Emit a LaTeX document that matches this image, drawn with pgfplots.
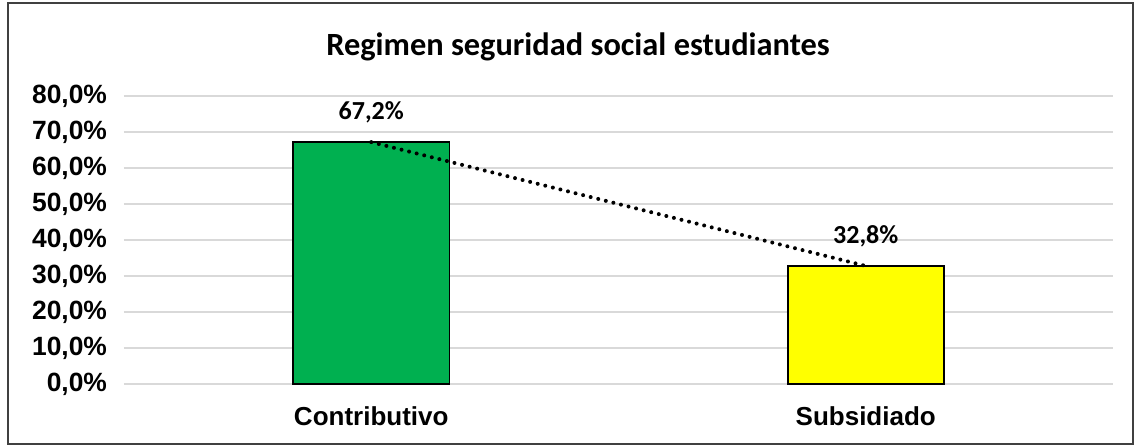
\documentclass[border=0pt]{standalone}
\usepackage{fontspec}
\setmainfont{Liberation Sans}
\newfontfamily\calibri{Carlito}
\usepackage{pgfplots}
\pgfplotsset{compat=1.18}
\definecolor{gridgray}{HTML}{D9D9D9}
\definecolor{bargreen}{HTML}{00B050}
\definecolor{baryellow}{HTML}{FFFF00}
\begin{document}
\begin{tikzpicture}
% frame and page size (1px = 0.5pt)
\path[use as bounding box] (-62pt,-31.5pt) rectangle (508.5pt,192pt);
\draw[black!75, line width=1pt] (-58pt,-30pt) rectangle (504.5pt,190.5pt);
\node[font=\calibri\bfseries\fontsize{16.2}{18}\selectfont] at (227pt,168.5pt) {Regimen seguridad social estudiantes};
\begin{axis}[
  at={(0,0)}, anchor=south west,
  scale only axis,
  width=494.5pt, height=144pt,
  xmin=-0.5, xmax=1.5,
  ymin=0, ymax=80,
  axis line style={draw=none},
  xtick={0,1},
  xticklabels={Contributivo,Subsidiado},
  ytick={0,10,...,80},
  yticklabels={{0,0\%},{10,0\%},{20,0\%},{30,0\%},{40,0\%},{50,0\%},{60,0\%},{70,0\%},{80,0\%}},
  major tick length=0pt,
  ymajorgrids,
  grid style={gridgray, line width=0.75pt},
  yticklabel style={font=\bfseries\fontsize{13.2}{15}\selectfont, xshift=-5pt},
  xticklabel style={font=\bfseries\fontsize{13}{15}\selectfont, yshift=-8pt},
  clip=false,
]
\addplot[ybar, bar width=78pt, bar shift=0pt, draw=black, line width=0.75pt, fill=bargreen,
  point meta=explicit symbolic,
  nodes near coords, nodes near coords style={font=\calibri\bfseries\fontsize{13}{15}\selectfont, anchor=south, yshift=6pt}]
  coordinates {(0,67.2) [67,2\%]};
\addplot[ybar, bar width=78pt, bar shift=0pt, draw=black, line width=0.75pt, fill=baryellow,
  point meta=explicit symbolic,
  nodes near coords, nodes near coords style={font=\calibri\bfseries\fontsize{13}{15}\selectfont, anchor=south, yshift=6pt}]
  coordinates {(1,32.8) [32,8\%]};
% linear trend line
\addplot[black, line width=2pt, line cap=round, dash pattern=on 0pt off 3.9pt] coordinates {(0,67.2) (1,32.8)};
\end{axis}
\end{tikzpicture}
\end{document}
